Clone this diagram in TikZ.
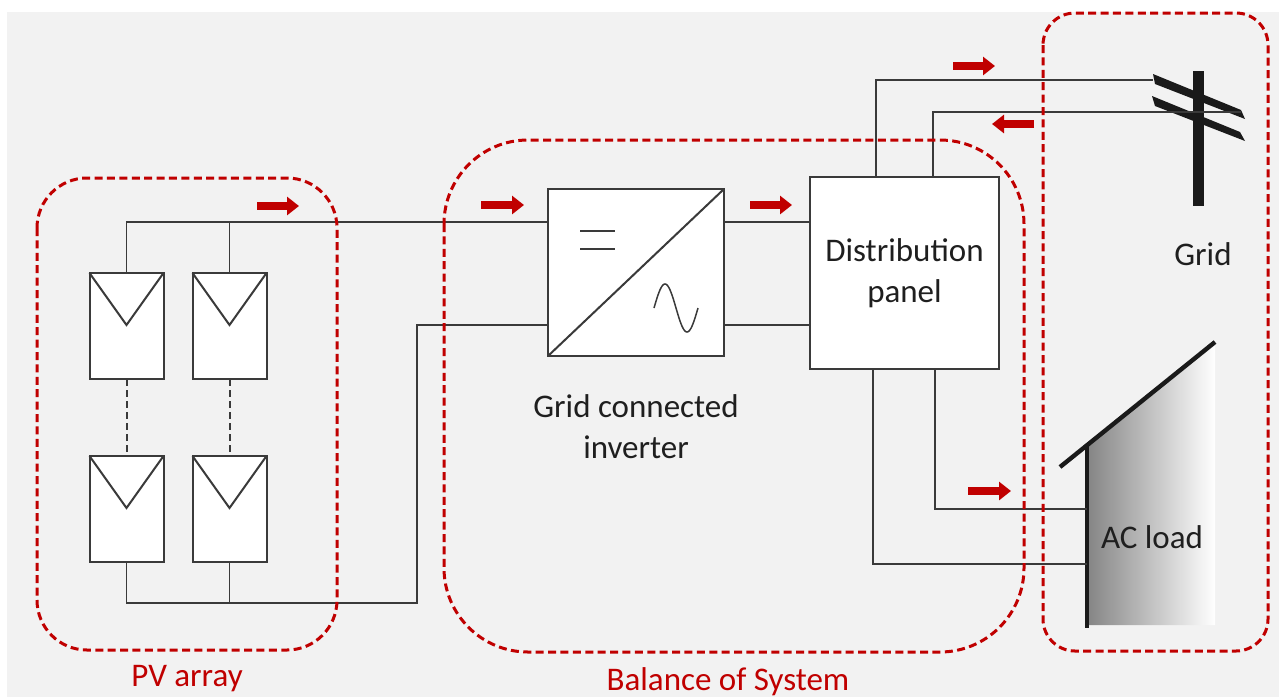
\documentclass[tikz,border=0pt]{standalone}
\usepackage{fontspec}
\setmainfont{Carlito}
\usetikzlibrary{arrows.meta}
\definecolor{bg}{HTML}{F2F2F2}
\definecolor{dred}{HTML}{C00000}
\definecolor{ink}{HTML}{3A3A3A}
\definecolor{pole}{HTML}{1A1A1A}

\begin{document}
\begin{tikzpicture}[x=0.5pt,y=-0.5pt,
  wire/.style={draw=ink,line width=0.75pt},
  box/.style={draw=ink,line width=1pt,fill=white,outer sep=0pt,inner sep=0pt},
  module/.style={box,minimum width=37pt,minimum height=53pt},
  zone/.style={draw=dred,line width=1.5pt,dash pattern=on 4pt off 2.2pt},
  flow/.style={draw=dred,line width=4pt,-{Triangle[length=6pt,width=9pt]}},
  lbl/.style={font=\fontsize{16.5}{20.5}\selectfont,text=black!88,align=center,inner sep=0pt},
  zlbl/.style={lbl,text=dred}]

% canvas
\useasboundingbox (0,0) rectangle (1279,697);
\fill[white] (0,0) rectangle (1279,697);
\fill[bg] (7,12) rectangle (1279,697);

% ---------- PV modules ----------
\node[module] (m11) at (126.5,326) {};
\node[module] (m12) at (229.5,326) {};
\node[module] (m21) at (126.5,509) {};
\node[module] (m22) at (229.5,509) {};
\foreach \m in {m11,m12,m21,m22}{
  \draw[wire,line width=1pt] (\m.north west) -- ([yshift=-26pt]\m.north) -- (\m.north east);
}
\draw[wire,line width=1pt,dash pattern=on 3.5pt off 2pt] (m11.south) -- (m21.north);
\draw[wire,line width=1pt,dash pattern=on 3.5pt off 2pt] (m12.south) -- (m22.north);

% ---------- inverter ----------
\node[box,minimum width=88pt,minimum height=83.5pt] (inv) at (636,272.5) {};
\draw[wire,line width=1pt] (inv.south west) -- (inv.north east);
\draw[wire] (580,231) -- (615,231);
\draw[wire] (580,249) -- (615,249);
\draw[wire] plot[domain=0:44,samples=45,smooth] ({654+\x},{308-24*sin(360*\x/44)});
\node[lbl] (invlbl) at (636,427) {Grid connected\\inverter};

% ---------- distribution panel ----------
\node[box,minimum width=94.5pt,minimum height=96pt,lbl] (pan) at (904.5,273) {Distribution\\panel};

% ---------- grid pole ----------
\fill[pole] (1193,71) rectangle (1204,206);
\fill[pole] (1153,74) -- (1241,110) -- (1245,119) -- (1155,84) -- cycle;
\fill[pole] (1152,96) -- (1240,132) -- (1245,141) -- (1155,106) -- cycle;
\node[lbl] (gridlbl) at (1203,254) {Grid};
\coordinate (poleA) at (1153,80);
\coordinate (poleB) at (1241,112);

% ---------- house (AC load) ----------
\shade[left color=black!48,right color=white]
  (1087,445) -- (1215,342) -- (1215,625) -- (1087,625) -- cycle;
\draw[pole,line width=2.2pt] (1060,467) -- (1215,342);
\draw[pole,line width=2.2pt] (1087,445) -- (1087,628);
\node[lbl] (load) at (1152,537) {AC load};
\coordinate (wallA) at (1087,509);
\coordinate (wallB) at (1087,564);

% ---------- wiring ----------
\coordinate (inA) at (inv.west |- 0,222);
\coordinate (inB) at (inv.west |- 0,325);
\coordinate (turn) at (417,603);
\draw[wire] (m11.north) |- (inA);
\draw[wire] (m12.north) -- (m12.north |- inA);
\draw[wire] (m21.south) |- (turn) |- (inB);
\draw[wire] (m22.south) -- (m22.south |- turn);
\draw[wire] (inv.east |- inA) -- (pan.west |- inA);
\draw[wire] (inv.east |- inB) -- (pan.west |- inB);
\draw[wire] (pan.north -| 876,0) |- (poleA);
\draw[wire] (pan.north -| 933,0) |- (poleB);
\draw[wire] (pan.south -| 935,0) |- (wallA);
\draw[wire] (pan.south -| 873,0) |- (wallB);

% ---------- power-flow arrows ----------
\draw[flow] (257,206) -- (299,206);
\draw[flow] (481,205) -- (524,205);
\draw[flow] (750,205) -- (792,205);
\draw[flow] (953,66) -- (995,66);
\draw[flow] (1034,124) -- (992,124);
\draw[flow] (968,491) -- (1011,491);

% ---------- zones ----------
\draw[zone,rounded corners=25pt] (37,178) rectangle (337,650);
\draw[zone,rounded corners=42pt] (444,140) rectangle (1024,652);
\draw[zone,rounded corners=16pt] (1043,13) rectangle (1268,651);
\node[zlbl] (pvlbl) at (187,679) {PV array};
\node[zlbl] (boslbl) at (728,682) {Balance of System};
\end{tikzpicture}
\end{document}
